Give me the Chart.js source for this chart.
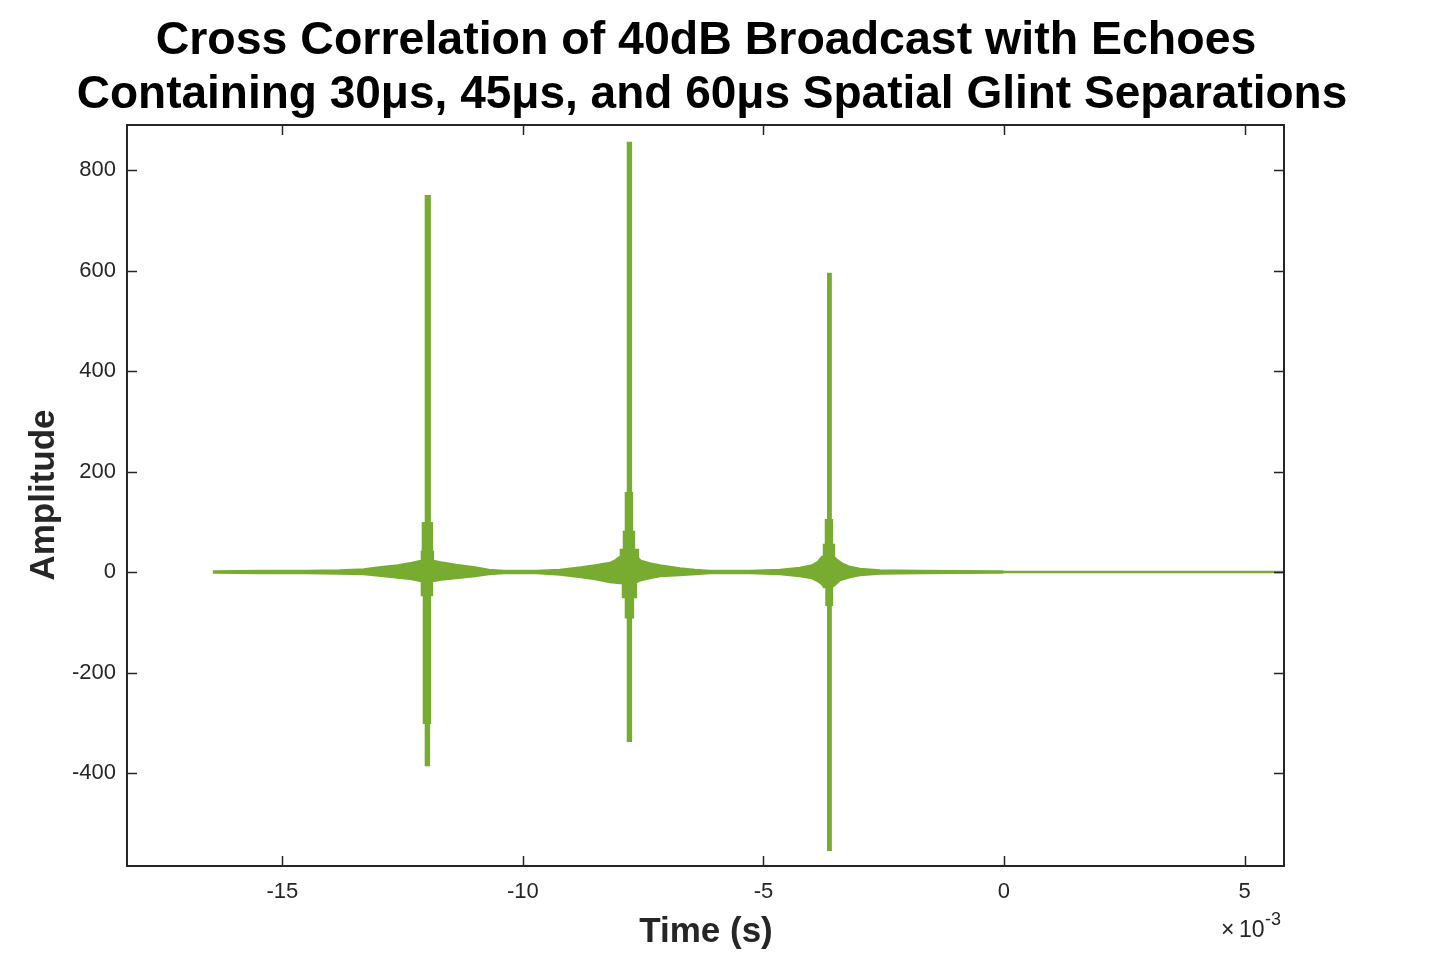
<!DOCTYPE html>
<html>
<head>
<meta charset="utf-8">
<title>Cross Correlation of 40dB Broadcast with Echoes</title>
<script src="https://cdn.jsdelivr.net/npm/chart.js@4.4.1/dist/chart.umd.min.js"></script>
<style>
  html, body { margin: 0; padding: 0; background: #fff; }
  #wrap { width: 1439px; height: 957px; }
</style>
</head>
<body>
<div id="wrap"><canvas id="xcorrChart" width="1439" height="957"></canvas></div>
<script>
// Min/max envelope of the cross-correlation trace (time in ms, amplitude)
const upperTimeMs = [
  -16.445, -15.468, -14.511, -13.805, -13.306, -12.994, -12.599, -12.308, -12.121,
  -12.100, -12.100, -12.079, -12.079, -12.017, -12.017, -11.938, -11.938, -11.892, -11.892, -11.871, -11.871,
  -11.809, -11.705, -11.393, -10.998, -10.707, -10.395, -9.709, -9.231, -8.794, -8.503, -8.191, -8.067, -7.983,
  -7.963, -7.963, -7.900, -7.900, -7.859, -7.859, -7.817, -7.817, -7.755, -7.755, -7.734, -7.734, -7.692, -7.692, -7.609, -7.609,
  -7.547, -7.360, -7.152, -6.736, -6.424, -6.112, -5.281, -4.657, -4.241, -3.992, -3.867, -3.784,
  -3.742, -3.742, -3.701, -3.701, -3.653, -3.653, -3.603, -3.603, -3.576, -3.576, -3.534, -3.534,
  -3.472, -3.368, -3.202, -2.994, -2.578, -1.746, -0.042, 0, 5.821
];
const upperAmp = [
  1, 2, 2, 3, 5, 9, 13, 18, 22,
  22, 40, 40, 97, 97, 748, 748, 97, 97, 40, 40, 22,
  21, 19, 14, 9, 4, 2, 2, 4, 9, 13, 18, 24, 30,
  30, 44, 44, 80, 80, 157, 157, 854, 854, 157, 157, 80, 80, 44, 44, 28,
  22, 17, 13, 7, 4, 2, 2, 4, 8, 13, 20, 30,
  30, 54, 54, 103, 103, 593, 593, 103, 103, 54, 54, 30,
  24, 17, 10, 6, 3, 2, 1, 0, 0
];
const lowerTimeMs = [
  -16.445, -15.468, -14.511, -13.805, -13.306, -12.994, -12.599, -12.308, -12.121,
  -12.100, -12.100, -12.058, -12.058, -12.017, -12.017, -11.954, -11.954, -11.933, -11.933, -11.892, -11.892,
  -11.809, -11.705, -11.393, -10.998, -10.707, -10.395, -9.709, -9.231, -8.794, -8.503, -8.191, -7.983,
  -7.921, -7.921, -7.859, -7.859, -7.817, -7.817, -7.755, -7.755, -7.713, -7.713, -7.651, -7.651,
  -7.547, -7.360, -7.152, -6.736, -6.424, -6.112, -5.281, -4.657, -4.241, -3.992, -3.867, -3.784,
  -3.742, -3.690, -3.690, -3.653, -3.653, -3.603, -3.603, -3.576, -3.576,
  -3.514, -3.410, -3.202, -2.994, -2.578, -1.746, -0.042, 0, 5.821
];
const lowerAmp = [
  -1, -2, -2, -3, -4, -7, -11, -14, -18,
  -18, -46, -46, -300, -300, -384, -384, -300, -300, -46, -46, -18,
  -17, -15, -12, -8, -4, -2, -2, -5, -10, -14, -20, -22,
  -22, -50, -50, -90, -90, -336, -336, -90, -90, -50, -50, -20,
  -16, -12, -8, -6, -4, -2, -2, -4, -8, -12, -18, -24,
  -30, -30, -65, -65, -553, -553, -65, -65, -30,
  -25, -16, -10, -6, -3, -2, -1, 0, 0
];

const xTicks = [-15, -10, -5, 0, 5];
const yTicks = [-400, -200, 0, 200, 400, 600, 800];
const xRange = [-18.23, 5.821];
const yRange = [-585, 889.6];

const titleLines = [
  'Cross Correlation of 40dB Broadcast with Echoes',
  'Containing 30\u03bcs, 45\u03bcs, and 60\u03bcs Spatial Glint Separations'
];

const GREEN = '#77AC30';
const AXIS = '#262626';
const FONT = '"Liberation Sans", Arial, Helvetica, sans-serif';

Chart.defaults.font.family = FONT;

// upper edge left to right, then lower edge back, filled as one shape
const tracePoints = upperTimeMs.map((t, i) => ({ x: t, y: upperAmp[i] }))
  .concat(lowerTimeMs.map((t, i) => ({ x: t, y: lowerAmp[i] })).reverse());

// MATLAB-like box with inward ticks, titles and the x10^-3 multiplier
const matlabAxes = {
  id: 'matlabAxes',
  afterDatasetsDraw(chart) {
    const { ctx, chartArea: a, scales } = chart;
    const len = 10;
    ctx.save();
    ctx.strokeStyle = AXIS;
    ctx.lineWidth = 1.5;
    ctx.beginPath();
    scales.x.ticks.forEach(t => {
      const px = Math.round(scales.x.getPixelForValue(t.value)) + 0.5;
      ctx.moveTo(px, a.bottom); ctx.lineTo(px, a.bottom - len);
      ctx.moveTo(px, a.top); ctx.lineTo(px, a.top + len);
    });
    scales.y.ticks.forEach(t => {
      const py = Math.round(scales.y.getPixelForValue(t.value)) + 0.5;
      ctx.moveTo(a.left, py); ctx.lineTo(a.left + len, py);
      ctx.moveTo(a.right, py); ctx.lineTo(a.right - len, py);
    });
    ctx.stroke();
    ctx.lineWidth = 2;
    ctx.strokeRect(a.left, a.top, a.right - a.left, a.bottom - a.top);
    ctx.restore();
  },
  afterDraw(chart) {
    const { ctx } = chart;
    ctx.save();
    ctx.fillStyle = '#000';
    ctx.textAlign = 'center';
    ctx.textBaseline = 'alphabetic';
    ctx.font = 'bold 46.5px ' + FONT;
    ctx.fillText(titleLines[0], 706, 54);
    ctx.font = 'bold 46px ' + FONT;
    ctx.fillText(titleLines[1], 712, 108);

    ctx.fillStyle = AXIS;
    ctx.font = 'bold 35px ' + FONT;
    ctx.fillText('Time (s)', 706, 942);
    ctx.save();
    ctx.translate(54, 495);
    ctx.rotate(-Math.PI / 2);
    ctx.fillText('Amplitude', 0, 0);
    ctx.restore();

    ctx.textAlign = 'left';
    ctx.font = '23px ' + FONT;
    ctx.fillText('\u00d7', 1221, 937);
    ctx.fillText('10', 1239, 937);
    ctx.font = '18px ' + FONT;
    ctx.fillText('-3', 1265, 925);
    ctx.restore();
  }
};

const tickStyle = { color: AXIS, font: { size: 22 } };

new Chart(document.getElementById('xcorrChart'), {
  type: 'line',
  data: {
    datasets: [{
      data: tracePoints,
      borderColor: GREEN,
      backgroundColor: GREEN,
      borderWidth: 2.4,
      pointRadius: 0,
      tension: 0,
      fill: 'shape'
    }]
  },
  options: {
    responsive: false,
    animation: false,
    layout: { padding: { top: 125, right: 155, left: 0, bottom: 0 } },
    plugins: { legend: { display: false }, tooltip: { enabled: false } },
    scales: {
      x: {
        type: 'linear',
        min: xRange[0],
        max: xRange[1],
        grid: { display: false, drawTicks: false },
        border: { display: false },
        ticks: { ...tickStyle, padding: 13 },
        afterBuildTicks: s => { s.ticks = xTicks.map(v => ({ value: v })); },
        afterFit: s => { s.height = 91; }
      },
      y: {
        type: 'linear',
        min: yRange[0],
        max: yRange[1],
        grid: { display: false, drawTicks: false },
        border: { display: false },
        ticks: { ...tickStyle, padding: 11 },
        afterBuildTicks: s => { s.ticks = yTicks.map(v => ({ value: v })); },
        afterFit: s => { s.width = 127; }
      }
    }
  },
  plugins: [matlabAxes]
});
</script>
</body>
</html>
